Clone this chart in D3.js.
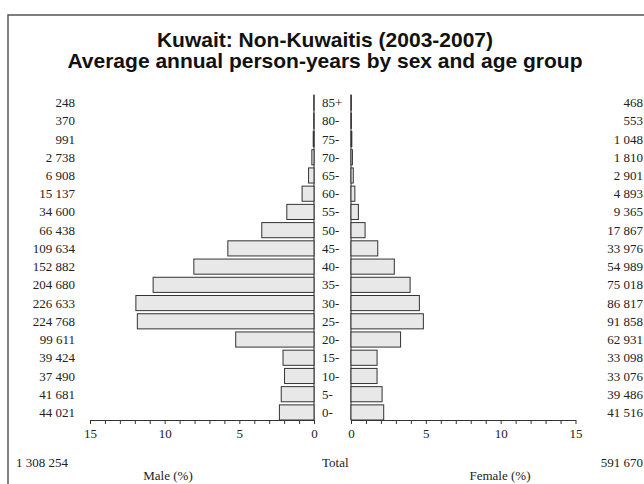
<!DOCTYPE html>
<html><head><meta charset="utf-8">
<script src="https://cdn.jsdelivr.net/npm/d3@7"></script>
<style>html,body{margin:0;padding:0;background:#fff;}svg{display:block;}</style>
</head><body>
<svg id="c" width="644" height="484"></svg>
<script>
const titleLines = ["Kuwait: Non-Kuwaitis (2003-2007)", "Average annual person-years by sex and age group"];
const ageGroups = ["85+","80-","75-","70-","65-","60-","55-","50-","45-","40-","35-","30-","25-","20-","15-","10-","5-","0-"];
const maleCounts = [248,370,991,2738,6908,15137,34600,66438,109634,152882,204680,226633,224768,99611,39424,37490,41681,44021];
const femaleCounts = [468,553,1048,1810,2901,4893,9365,17867,33976,54989,75018,86817,91858,62931,33098,33076,39486,41516];
const maleTotal = 1308254, femaleTotal = 591670;
const totalLabels = ["1 308 254", "Total", "591 670"];
const axisTicks = [0,5,10,15];
const axisLabels = ["Male (%)", "Female (%)"];

const grand = maleTotal + femaleTotal;
const fmt = n => d3.format(",")(n).replace(/,/g, " ");
const svg = d3.select("#c");
const serif = "'Liberation Serif', 'Times New Roman', serif";

// frame
svg.append("path").attr("d","M8,490 L8,15 L650,15").attr("fill","none").attr("stroke","#555").attr("stroke-width",1.5);

// title
svg.selectAll("text.title").data(titleLines).join("text")
  .attr("x", 325).attr("y",(d,i)=>47+i*21).attr("text-anchor","middle")
  .style("font-family","'Liberation Sans', Arial, sans-serif").style("font-weight","bold").style("font-size","21px")
  .attr("fill","#111").text(d=>d);

const y = d3.scaleBand().domain(ageGroups).range([95, 420]).paddingInner(0.17).paddingOuter(0).align(1);
const xL = d3.scaleLinear().domain([0,15]).range([314,90]);
const xR = d3.scaleLinear().domain([0,15]).range([351,575.5]);
const axisY = 420;

// center lines
svg.append("line").attr("x1",314).attr("x2",314).attr("y1",95).attr("y2",axisY).attr("stroke","#222");
svg.append("line").attr("x1",351).attr("x2",351).attr("y1",95).attr("y2",axisY).attr("stroke","#222");

// bars
svg.selectAll("rect.m").data(ageGroups).join("rect")
  .attr("x",(d,i)=>xL(maleCounts[i]/grand*100)).attr("y",d=>y(d))
  .attr("width",(d,i)=>xL(0)-xL(maleCounts[i]/grand*100)).attr("height",y.bandwidth())
  .attr("fill","#e8e8e8").attr("stroke","#333").attr("stroke-width",1);
svg.selectAll("rect.f").data(ageGroups).join("rect")
  .attr("x",xR(0)).attr("y",d=>y(d))
  .attr("width",(d,i)=>xR(femaleCounts[i]/grand*100)-xR(0)).attr("height",y.bandwidth())
  .attr("fill","#e8e8e8").attr("stroke","#333").attr("stroke-width",1);

const lab = (sel)=>sel.style("font-family",serif).style("font-size","13px").attr("fill","#222");
// labels
lab(svg.selectAll("text.ml").data(ageGroups).join("text")
  .attr("x",75).attr("y",d=>y(d)+y.bandwidth()/2).attr("dy","0.35em").attr("text-anchor","end")
  .text((d,i)=>fmt(maleCounts[i])));
lab(svg.selectAll("text.ag").data(ageGroups).join("text")
  .attr("x",322).attr("y",d=>y(d)+y.bandwidth()/2).attr("dy","0.35em")
  .text(d=>d));
lab(svg.selectAll("text.fl").data(ageGroups).join("text")
  .attr("x",643).attr("y",d=>y(d)+y.bandwidth()/2).attr("dy","0.35em").attr("text-anchor","end")
  .text((d,i)=>fmt(femaleCounts[i])));

// axes
const minor = d3.range(0,16);
function drawAxis(scale){
  const g = svg.append("g").attr("transform",`translate(0,${axisY})`)
    .call(d3.axisBottom(scale).tickValues(minor).tickSize(4).tickSizeOuter(0).tickFormat(d=>axisTicks.includes(d)?d:""));
  g.select(".domain").attr("stroke","#333");
  g.selectAll(".tick line").attr("stroke","#333");
  g.selectAll(".tick text").attr("y",9).style("font-family",serif).style("font-size","13px").attr("fill","#222");
}
drawAxis(xL); drawAxis(xR);

// totals
lab(svg.append("text").attr("x",16).attr("y",467).text(totalLabels[0]));
lab(svg.append("text").attr("x",322).attr("y",467).text(totalLabels[1]));
lab(svg.append("text").attr("x",643).attr("y",467).attr("text-anchor","end").text(totalLabels[2]));
lab(svg.append("text").attr("x",168).attr("y",480).attr("text-anchor","middle").text(axisLabels[0]));
lab(svg.append("text").attr("x",500).attr("y",480).attr("text-anchor","middle").text(axisLabels[1]));
</script>
</body></html>
